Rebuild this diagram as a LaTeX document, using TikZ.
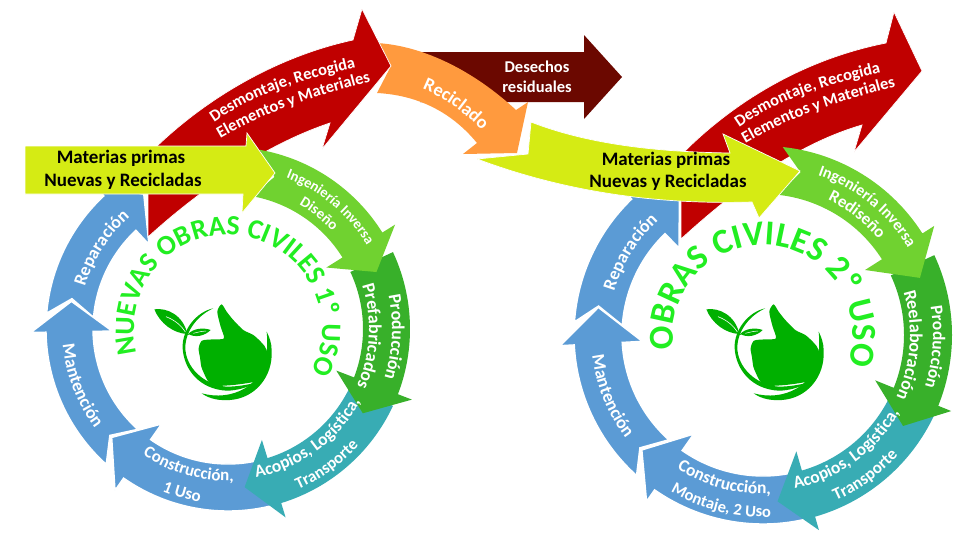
\documentclass[tikz,border=0pt]{standalone}
\usepackage{fontspec}
\setmainfont{Carlito}
\usetikzlibrary{decorations.text}
\definecolor{cLight}{HTML}{70D230}
\definecolor{cDark}{HTML}{38B02A}
\definecolor{cTeal}{HTML}{38ACB4}
\definecolor{cBlue}{HTML}{5B9BD5}
\definecolor{cRed}{HTML}{C00000}
\definecolor{cBrown}{HTML}{6B0800}
\definecolor{cOrange}{HTML}{FF9A3E}
\definecolor{cYellow}{HTML}{D5EB14}
\definecolor{cTitle}{HTML}{22EE22}
\definecolor{cLogo}{HTML}{00B000}
\tikzset{
  x=1pt,y=1pt,
  flowarrow/.style={draw=white,line width=0.7pt,line join=miter},
  bluearrow/.style={fill=cBlue,draw=white,line width=1.4pt,line join=miter},
  labeltext/.style={font=\fontsize{19}{21}\selectfont\bfseries,text=black,inner sep=0pt},
  whitetext/.style={font=\fontsize{16.5}{18}\selectfont\bfseries,text=white,inner sep=0pt},
}
\newcommand\rfs[1]{\fontsize{#1}{#1}\selectfont\bfseries\color{white}}
% centre of the current ring and its radii
\newcommand\setring[7]{\def\cx{#1}\def\cy{#2}\def\Ro{#3}\def\Ri{#4}\def\Hout{#5}\def\Hin{#6}\def\Mid{#7}}
% style, tail angle, notch angle, neck angle, tip angle (screen-clockwise degrees)
\newcommand\ringarrow[5]{%
  \path[shift={(\cx,-\cy)},#1]
    (-#2:\Ro) arc[start angle=-#2,end angle=-#4,radius=\Ro]
    -- (-#4:\Hout) -- (-#5:\Mid) -- (-#4:\Hin) -- (-#4:\Ri)
    arc[start angle=-#4,end angle=-#2,radius=\Ri]
    -- (-#3:\Mid) -- cycle;}
% text along an arc: clockwise (letters' tops outward)
\newcommand\cwtext[5][\rfs{15}]{%
  \path[shift={(\cx,-\cy)},decorate,decoration={text along path,text align=center,text={|#1|#5}}]
    (-#2+#4:#3) arc[start angle=-#2+#4,end angle=-#2-#4,radius=#3];}
% text along an arc: counter-clockwise (letters' tops inward)
\newcommand\ccwtext[5][\rfs{15}]{%
  \path[shift={(\cx,-\cy)},decorate,decoration={text along path,text align=center,text={|#1|#5}}]
    (-#2-#4:#3) arc[start angle=-#2-#4,end angle=-#2+#4,radius=#3];}
% bezier text on the red arrows
\newcommand\redtext[3]{%
  \begin{scope}[shift={(#1,#2)}]
  \path[decorate,decoration={text along path,text align=center,text={|\rfs{16.5}|Desmontaje, Recogida}}]
    (209,-126) .. controls (252,-94) and (300,-80) .. (362,-66);
  \path[decorate,decoration={text along path,text align=center,text={|\rfs{16.5}|Elementos y Materiales}}]
    (214,-142) .. controls (260,-114) and (310,-97) .. (378,-80);
  \end{scope}}
% hand-and-leaf logo, in 1/3-pixel units
\newcommand\ecologo[1]{%
  \begin{scope}[shift={(#1pt,-270pt)},x=0.3333pt,y=-0.3333pt,fill=cLogo]
    \fill plot[smooth cycle,tension=0.45] coordinates {(665,103) (680,125) (700,150) (730,180) (760,195) (785,218) (800,240) (802,290) (785,320) (765,335) (700,345) (640,347) (622,330) (612,310) (604,290) (600,262) (596,235) (606,212) (640,208) (672,205) (662,170) (652,125)};
    \fill (640,115) .. controls (590,125) and (545,180) .. (548,235) .. controls (552,300) and (600,358) .. (680,362) .. controls (710,362) and (745,352) .. (768,338) .. controls (740,345) and (710,350) .. (680,350) .. controls (610,345) and (555,290) .. (556,230) .. controls (558,180) and (595,135) .. (640,115) -- cycle;
    \fill (605,370) .. controls (630,388) and (660,392) .. (690,390) .. controls (765,385) and (820,320) .. (815,240) .. controls (815,220) and (808,200) .. (800,185) .. controls (808,260) and (790,320) .. (735,355) .. controls (695,378) and (650,382) .. (605,370) -- cycle;
    \fill (463,118) .. controls (500,112) and (550,135) .. (562,192) .. controls (520,190) and (480,160) .. (463,118) -- cycle;
    \fill (565,192) .. controls (580,175) and (610,172) .. (632,180) .. controls (615,198) and (585,204) .. (565,192) -- cycle;
    \draw[white,line width=0.6pt] (498,140) .. controls (525,150) and (545,168) .. (556,186);
    \draw[white,line width=0.5pt] (580,190) .. controls (595,186) and (605,184) .. (618,183);
    \draw[cLogo,line width=0.7pt] (560,188) -- (566,194);
  \end{scope}}
\begin{document}
\begin{tikzpicture}
\useasboundingbox (0,0) rectangle (974,-547);
\fill[white] (0,0) rectangle (974,-547);

%%% LEFT RING %%%
\setring{228}{329}{182}{135}{197}{116}{159}
\ringarrow{bluearrow}{185}{191}{227}{238}
\ringarrow{bluearrow}{132}{138}{179}{190}
\ringarrow{bluearrow}{70}{70}{125}{137}
\ringarrow{fill=cTeal}{25}{25}{73}{84}
%%% central brown arrow + orange
\path[fill=cBrown] (420,-52) -- (584,-52) -- (584,-35) -- (622,-77) -- (584,-119) -- (584,-102) -- (420,-102) -- cycle;
\path[fill=cOrange] (377,-43) .. controls (425,-46) and (475,-72) .. (516,-110)
  -- (528,-102) -- (517,-153) -- (463,-154) -- (477,-143)
  .. controls (450,-110) and (415,-95) .. (377,-93) -- (391,-66) -- cycle;
%%% red left
\path[fill=cRed,flowarrow] (148,-237) -- (148,-155) .. controls (197,-105) and (270,-58) .. (353,-40)
  -- (362,-9) -- (391,-66) -- (322,-149) -- (330,-123)
  .. controls (270,-143) and (205,-185) .. (148,-237) -- cycle;
\ringarrow{fill=cDark}{335}{335}{381}{392}
\ringarrow{fill=cLight}{280}{287}{328}{339}
%%% yellow left
\path[fill=cYellow,flowarrow] (25,-146) -- (246,-146) -- (247,-133) -- (275,-173) -- (242,-213) -- (243,-194) -- (25,-194) -- cycle;
\cwtext[\rfs{18}]{212.6}{149}{45}{Reparación}
\ccwtext[\rfs{18}]{158.9}{166}{45}{Mantención}
\ccwtext[\rfs{17}]{106}{152}{40}{Construcción,}
\ccwtext[\rfs{17}]{105.7}{175}{40}{1 Uso}
\ccwtext[\rfs{17.5}]{54}{151}{45}{Acopios, Logística,}
\ccwtext[\rfs{16.5}]{54}{175}{40}{Transporte}
\cwtext[\rfs{18}]{2.8}{164}{45}{Producción}
\cwtext[\rfs{18}]{3}{141}{50}{Prefabricados}
\cwtext[\rfs{14.5}]{310}{162}{45}{Ingeniería Inversa}
\cwtext[\rfs{15}]{308.4}{143}{40}{Diseño}
\node[labeltext] (mat1) at (121,-158) {Materias primas};
\node[labeltext] (nue1) at (123,-181) {Nuevas y Recicladas};
\redtext{0}{0}
%%% left title
\setring{219}{341}{0}{0}{0}{0}{0}
\cwtext[\fontsize{28}{28}\selectfont\bfseries\color{cTitle}]{276}{94}{125}{NUEVAS OBRAS CIVILES 1º USO}
\ecologo{0}

%%% RIGHT RING %%%
\setring{763}{335}{189}{141}{203}{121}{167}
\ringarrow{bluearrow}{184}{190}{226}{240}
\ringarrow{bluearrow}{132}{137.5}{177}{189.5}
\ringarrow{bluearrow}{70}{70}{125}{136.5}
\ringarrow{fill=cTeal}{25}{25}{74}{85}
\path[fill=cRed,flowarrow] (681,-239) -- (681,-155) .. controls (730,-105) and (800,-60) .. (886,-43)
  -- (894,-12) -- (922,-71) -- (854,-152) -- (862,-125)
  .. controls (800,-143) and (740,-185) .. (681,-239) -- cycle;
\ringarrow{fill=cDark}{335}{335}{382}{393}
\ringarrow{fill=cLight}{276}{283}{327.5}{340}
%%% yellow right
\path[fill=cYellow,flowarrow] (531,-122) .. controls (590,-145) and (660,-152) .. (730,-153)
  -- (723,-134) -- (800,-171) -- (759,-218) -- (752,-202)
  .. controls (650,-205) and (560,-190) .. (477,-159)
  -- (528,-154) -- cycle;
\cwtext[\rfs{18}]{212}{155}{45}{Reparación}
\ccwtext[\rfs{18}]{158}{172}{45}{Mantención}
\ccwtext[\rfs{17.5}]{105}{159}{40}{Construcción,}
\ccwtext[\rfs{16.5}]{104}{182}{40}{Montaje, 2 Uso}
\ccwtext[\rfs{17.5}]{54}{157}{45}{Acopios, Logística,}
\ccwtext[\rfs{17}]{54}{181}{40}{Transporte}
\cwtext[\rfs{17.5}]{4}{170}{45}{Producción}
\cwtext[\rfs{18}]{4}{147}{50}{Reelaboración}
\cwtext[\rfs{16}]{309}{169}{45}{Ingeniería Inversa}
\cwtext[\rfs{17}]{308}{150}{40}{Rediseño}
\node[labeltext] (mat2) at (666,-160) {Materias primas};
\node[labeltext] (nue2) at (668,-182) {Nuevas y Recicladas};
\redtext{525}{-5}
%%% right title
\setring{763}{338}{0}{0}{0}{0}{0}
\cwtext[\fontsize{35}{35}\selectfont\bfseries\color{cTitle}]{275}{90}{130}{OBRAS CIVILES 2º USO}
\ecologo{552}

%%% centre labels
\path[decorate,decoration={text along path,text align=center,text={|\rfs{18.5}|Reciclado}}]
  (414,-86) .. controls (440,-94) and (465,-112) .. (488,-137);
\node[whitetext] (des) at (537,-67) {Desechos};
\node[whitetext] (res) at (537,-87) {residuales};
\end{tikzpicture}
\end{document}
